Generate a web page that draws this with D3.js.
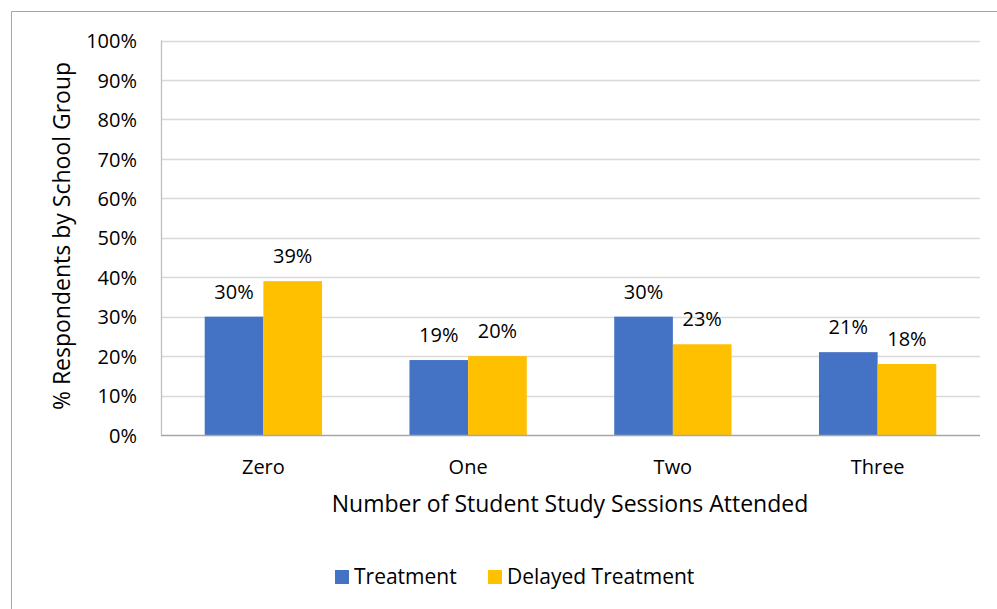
<!DOCTYPE html>
<html>
<head>
<meta charset="utf-8">
<script src="https://cdn.jsdelivr.net/npm/d3@7"></script>
<style>
  html, body { margin: 0; padding: 0; background: #fff; }
  svg { display: block; }
  text { font-family: "Open Sans", sans-serif; fill: #000; }
</style>
</head>
<body>
<svg id="chart" width="997" height="609"></svg>
<script>
// Sessions attended and the share of respondents in each school group
const categories = ["Zero", "One", "Two", "Three"];
const seriesNames = ["Treatment", "Delayed Treatment"];
const treatment = [30, 19, 30, 21];
const delayedTreatment = [39, 20, 23, 18];
const yTicks = [0, 10, 20, 30, 40, 50, 60, 70, 80, 90, 100];
const colors = ["#4472C4", "#FFC000"];

const svg = d3.select("#chart");
const W = 997, H = 609;
const plot = { left: 161, right: 980, top: 40.5, bottom: 435 };
const FS = "20px";

// outer chart frame (open on the right and bottom)
svg.append("path")
  .attr("d", `M11.5,${H} L11.5,11.5 L${W},11.5`)
  .attr("fill", "none").attr("stroke", "#a6a6a6").attr("stroke-width", 1);

const x0 = d3.scaleBand().domain(categories).range([plot.left, plot.right])
  .paddingInner(0.427).paddingOuter(0.2135);
const x1 = d3.scaleBand().domain(seriesNames).range([0, x0.bandwidth()]);
const y = d3.scaleLinear().domain([0, 100]).range([plot.bottom, plot.top]);

// horizontal gridlines
svg.append("g").selectAll("line").data(yTicks.filter(d => d > 0)).join("line")
  .attr("x1", plot.left).attr("x2", plot.right)
  .attr("y1", d => Math.round(y(d)) + 0.5).attr("y2", d => Math.round(y(d)) + 0.5)
  .attr("stroke", "#d9d9d9").attr("stroke-width", 1.3);

// y axis tick labels
const yAxis = d3.axisLeft(y).tickValues(yTicks).tickFormat(d => d + "%").tickSize(0).tickPadding(24);
const gy = svg.append("g").attr("transform", `translate(${plot.left},0)`).call(yAxis);
gy.select(".domain").remove();
gy.selectAll("text").attr("font-size", FS).attr("dy", "0.36em").style("font-family", null);

// bars
const rows = categories.map((c, i) => ({ cat: c, vals: [treatment[i], delayedTreatment[i]] }));
const groups = svg.append("g").selectAll("g").data(rows).join("g")
  .attr("transform", d => `translate(${x0(d.cat)},0)`);
groups.selectAll("rect").data(d => d.vals.map((v, j) => ({ v, name: seriesNames[j], j })))
  .join("rect")
  .attr("x", d => x1(d.name)).attr("width", x1.bandwidth())
  .attr("y", d => y(d.v)).attr("height", d => y(0) - y(d.v))
  .attr("fill", d => colors[d.j]);

// value labels
groups.selectAll("text.val").data(d => d.vals.map((v, j) => ({ v, name: seriesNames[j] })))
  .join("text").attr("class", "val")
  .attr("x", d => x1(d.name) + x1.bandwidth() / 2)
  .attr("y", d => y(d.v) - 18)
  .attr("text-anchor", "middle").attr("font-size", FS)
  .text(d => d.v + "%");

// y axis line and baseline
svg.append("line").attr("x1", plot.left + 0.5).attr("x2", plot.left + 0.5)
  .attr("y1", plot.top).attr("y2", plot.bottom).attr("stroke", "#bfbfbf").attr("stroke-width", 1.3);
svg.append("line").attr("x1", plot.left).attr("x2", plot.right)
  .attr("y1", plot.bottom + 0.5).attr("y2", plot.bottom + 0.5).attr("stroke", "#a6a6a6").attr("stroke-width", 1.3);

// x axis category labels
const xAxis = d3.axisBottom(x0).tickSize(0).tickPadding(0);
const gx = svg.append("g").attr("transform", `translate(0,${plot.bottom})`).call(xAxis);
gx.select(".domain").remove();
gx.selectAll("text").attr("font-size", FS).attr("y", 39).attr("dy", null).style("font-family", null);

// axis titles
svg.append("text").attr("x", 570).attr("y", 512)
  .attr("text-anchor", "middle").attr("font-size", "23px")
  .text("Number of Student Study Sessions Attended");
svg.append("text").attr("transform", `translate(70,236) rotate(-90)`)
  .attr("text-anchor", "middle").attr("font-size", "23px")
  .text("% Respondents by School Group");

// legend
const legend = svg.append("g");
const legendItems = [{ name: seriesNames[0], x: 335 }, { name: seriesNames[1], x: 488 }];
legendItems.forEach((d, i) => {
  legend.append("rect").attr("x", d.x).attr("y", 570).attr("width", 14).attr("height", 14).attr("fill", colors[i]);
  legend.append("text").attr("x", d.x + 19).attr("y", 584).attr("font-size", "21px").text(d.name);
});
</script>
</body>
</html>
